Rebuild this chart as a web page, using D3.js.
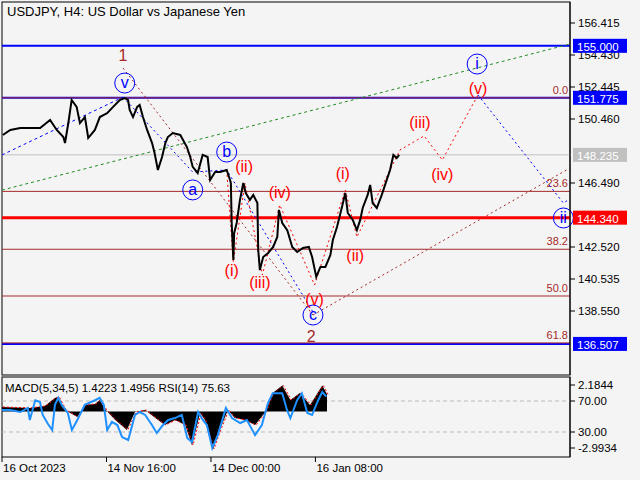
<!DOCTYPE html>
<html><head><meta charset="utf-8">
<script src="https://cdn.jsdelivr.net/npm/d3@7"></script>
<style>body{margin:0;background:#f4f4f4}text{font-family:"Liberation Sans",Arial,sans-serif}</style>
</head><body><svg id="c" width="640" height="480"></svg>
<script>
// price trace, bar index / close
var priceIdx = [1,10,22,37,46,58,66,74,76,80,84,90,94,100,104,112,118,127,134,142,148,152,154,158,163,166,170,175,181,184,188,193,197,200,206,215,223,227,230,236,242,248,251,257,263,271,275,276,277,279,280,283,287,291,294,299,303,308,309,311,315,321,327,332,334,338,344,350,356,363,370,374,379,384,390,396,399,404,410,414,417,423,428,432,435,441,444,447,452,458,464,468,472,476,479];
var priceVal = [149.47,149.78,149.90,149.90,149.90,150.40,149.78,149.34,148.97,150.21,151.64,151.21,150.21,150.58,149.28,149.78,150.58,150.83,151.21,151.64,151.76,151.64,151.02,150.58,151.21,151.33,150.58,149.78,148.97,148.35,147.30,148.10,148.97,149.34,149.59,149.47,148.72,148.10,147.49,147.11,148.23,148.10,146.68,147.17,147.17,147.30,146.68,146.49,144.01,141.71,143.39,144.01,145.44,146.49,145.87,145.44,145.75,145.25,142.33,141.09,141.90,142.15,142.52,143.14,144.82,144.01,143.57,142.52,142.21,142.46,142.52,141.90,140.66,141.28,141.28,142.02,142.95,143.76,145.00,145.87,144.63,144.20,143.57,144.20,144.94,145.75,146.37,145.25,144.94,145.75,146.68,147.30,148.23,148.04,148.23];

var rsiIdx = [0,12,27,38,41,49,56,60,68,74,78,83,88,97,103,111,122,137,144,150,155,162,170,177,186,196,203,211,221,228,236,245,255,265,273,280,289,296,302,310,318,330,339,351,361,373,383,392,399,413,420,425,435,442,450,457,466,472,478];
var rsiVal = [58.4,58.4,55.8,61,45.5,71,68.7,52,40,32.6,65,74,65,54.5,32.6,45.5,65,71,74,65,32.6,43,39,23.5,19.7,52,55.8,52,39,28.7,37.7,45.5,48,52,22.3,17,55.8,45.5,39,9.4,26,61,48,41.6,45.5,26,39,67.4,80,80,58.4,48,71,80,54.5,52,71,81.6,75.6];
var macdIdx = [0,41,63,78,83,93,111,122,137,144,153,167,184,196,211,226,240,255,270,280,292,299,311,321,333,343,358,373,388,399,413,425,439,454,472,479];
var macdVal = [0.38,0.30,0.46,1.12,1.2,0.13,-0.44,0.54,0.63,0.95,0.13,-0.69,-1.51,-0.03,0.13,-0.52,-1.1,-0.69,-1.1,-2.76,-0.12,-0.69,-3.07,-1.5,0.13,-0.52,-0.69,-1.1,-0.03,1.52,2.15,0.95,1.52,0.54,2.15,1.42];

var priceTicks = [156.415,154.430,152.445,150.460,148.475,146.490,144.505,142.520,140.535,138.550,136.565];
var levels = [
  {p:155.000, c:"#0000ff", w:2},
  {p:151.775, c:"#0000ff", w:2},
  {p:148.235, c:"#c0c0c0", w:1},
  {p:144.340, c:"#ff0000", w:3},
  {p:136.507, c:"#0000ff", w:2}];
var fibNames = ["0.0","23.6","38.2","50.0","61.8"];
var fibPrices = [151.775,145.97,142.38,139.48,136.57];
var dateTicks = [0,126,252,378];
var dateLabels = ["16 Oct 2023","14 Nov 16:00","14 Dec 00:00","16 Jan 08:00"];

// wave overlays [idx, price]
var greenLine = [[0,146.05],[685,155.11]];
var brownA = [[146,153.62],[375,138.30]];
var brownB = [[375,138.30],[685,147.42]];
var blueV = [[0,148.23],[146,151.82]];
var blueABC = [[146,151.82],[230,147.17],[271,147.30],[375,138.49]];
var redA = [[271,147.30],[279,141.59],[293,146.49],[314,140.78],[335,145.13],[377,140.16]];
var redB = [[377,140.16],[414,146.06],[428,143.14],[480,148.54],[509,149.41],[531,147.92],[574,151.95]];
var blueEnd = [[574,151.95],[677,145.25],[683,145.44]];
var brownLabels = [["1",146,154.43],["2",373,136.98]];
var circleLabels = [["v",148,152.69],["a",230,146.06],["b",271,148.41],["c",375,138.30],["i",573,153.87],["ii",677,144.32]];
var redLabels = [["(ii)",292,147.54],["(i)",277,141.09],["(iii)",311,140.35],["(iv)",335,145.93],["(v)",377,139.30],["(i)",411,147.11],["(ii)",426,142.02],["(iii)",504,150.27],["(iv)",531,147.05],["(v)",574,152.38]];

var svg = d3.select("#c");
var x = d3.scaleLinear().domain([0,685]).range([2,570]);
var y = d3.scaleLinear().domain([156.415,136.565]).range([23,343]);
var xi = d3.scaleLinear().domain([0,479]).range([2,327]);
var yr = d3.scaleLinear().domain([70,30]).range([401,432]);
var ym = d3.scaleLinear().domain([2.1844,-2.9934]).range([385,448]);

svg.append("rect").attr("x",2).attr("y",2).attr("width",568).attr("height",373).attr("fill","#f4f4f4").attr("stroke","#000");
svg.append("rect").attr("x",2).attr("y",377).attr("width",568).attr("height",80).attr("fill","#f4f4f4").attr("stroke","#000");

var main = svg.append("g");
var line = d3.line().x(d => x(d[0])).y(d => y(d[1]));

// levels
main.selectAll("line.lv").data(levels).join("line")
  .attr("x1",2).attr("x2",570).attr("y1",d=>y(d.p)).attr("y2",d=>y(d.p))
  .attr("stroke",d=>d.c).attr("stroke-width",d=>d.w);
main.selectAll("line.fib").data(fibPrices).join("line")
  .attr("x1",2).attr("x2",570).attr("y1",d=>y(d)).attr("y2",d=>y(d))
  .attr("stroke","#a52a2a").attr("stroke-width",1);
main.selectAll("text.fib").data(fibPrices).join("text")
  .attr("x",568).attr("y",d=>y(d)-4).attr("text-anchor","end")
  .attr("font-size",11).attr("fill","#a52a2a").text((d,i)=>fibNames[i]);

function dotted(data,col,dash){
  main.append("path").attr("d",line(data)).attr("fill","none")
    .attr("stroke",col).attr("stroke-width",1).attr("stroke-dasharray",dash||"2,3");
}
dotted(greenLine,"#228b22","3,3");
dotted(brownA,"#a52a2a");
dotted(brownB,"#a52a2a");
dotted(blueV,"#0000ff","3,3");
dotted(blueABC,"#0000ff");
dotted(redA,"#ff0000");
dotted(redB,"#ff0000");
dotted(blueEnd,"#0000ff");

// price
main.append("path").attr("d",line(priceIdx.map((d,i)=>[d,priceVal[i]])))
  .attr("fill","none").attr("stroke","#000").attr("stroke-width",2);

main.selectAll("text.bl").data(brownLabels).join("text")
  .attr("x",d=>x(d[1])).attr("y",d=>y(d[2])+6).attr("text-anchor","middle")
  .attr("font-size",16).attr("fill","#a52a2a").text(d=>d[0]);
var cl = main.selectAll("g.cl").data(circleLabels).join("g")
  .attr("transform",d=>`translate(${x(d[1])},${y(d[2])})`);
cl.append("circle").attr("r",10).attr("fill","none").attr("stroke","#0000ff");
cl.append("text").attr("y",5).attr("text-anchor","middle").attr("font-size",16).attr("fill","#0000ff").text(d=>d[0]);
main.selectAll("text.rl").data(redLabels).join("text")
  .attr("x",d=>x(d[1])).attr("y",d=>y(d[2])+6).attr("text-anchor","middle")
  .attr("font-size",16).attr("fill","#ff0000").text(d=>d[0]);

svg.append("text").attr("x",7).attr("y",16).attr("font-size",13).text("USDJPY, H4:  US Dollar vs Japanese Yen");

// right axis
var ax = svg.append("g");
ax.append("line").attr("x1",570).attr("x2",570).attr("y1",2).attr("y2",375).attr("stroke","#000");
var shownTicks = priceTicks.filter(t => !levels.some(l => Math.abs(y(l.p)-y(t)) < 9));
ax.selectAll("g.t").data(shownTicks).join("g").attr("transform",d=>`translate(570,${y(d)})`)
  .call(g=>{g.append("line").attr("x2",5).attr("stroke","#000");
    g.append("text").attr("x",8).attr("y",4).attr("font-size",11.5).text(d=>d.toFixed(3));});
var tags = ax.selectAll("g.tag").data(levels).join("g").attr("transform",d=>`translate(573,${y(d.p)})`);
tags.append("rect").attr("y",-7).attr("width",54).attr("height",14).attr("fill",d=>d.c);
tags.append("text").attr("x",4).attr("y",5).attr("font-size",11.5).attr("fill","#fff").text(d=>d.p.toFixed(3));

// indicator
var ind = svg.append("g");
[70,30].forEach(v=>ind.append("line").attr("x1",2).attr("x2",570).attr("y1",yr(v)).attr("y2",yr(v))
  .attr("stroke","#bbb").attr("stroke-dasharray","4,3"));
var md = macdIdx.map((d,i)=>[d,macdVal[i]]);
ind.append("path").attr("d",d3.area().x(d=>xi(d[0])).y0(ym(0)).y1(d=>ym(d[1]))(md)).attr("fill","#000");
ind.append("path").attr("d",d3.line().x(d=>xi(d[0])+1).y(d=>ym(d[1]))(md)).attr("fill","none")
  .attr("stroke","#ff0000").attr("stroke-dasharray","2,2");
ind.append("path").attr("d",d3.line().x(d=>xi(d[0])).y(d=>yr(d[1]))(rsiIdx.map((d,i)=>[d,rsiVal[i]])))
  .attr("fill","none").attr("stroke","#1e90ff").attr("stroke-width",2);
ind.append("text").attr("x",5).attr("y",392).attr("font-size",11.5).text("MACD(5,34,5) 1.4223 1.4956 RSI(14) 75.63");
var il = [[2.1844,ym(2.1844)],[70,yr(70)],[30,yr(30)],[-2.9934,ym(-2.9934)]];
var ilab = ["2.1844","70.00","30.00","-2.9934"];
ind.append("line").attr("x1",570).attr("x2",570).attr("y1",377).attr("y2",457).attr("stroke","#000");
il.forEach((d,i)=>{ind.append("line").attr("x1",570).attr("x2",575).attr("y1",d[1]).attr("y2",d[1]).attr("stroke","#000");
  ind.append("text").attr("x",578).attr("y",d[1]+4).attr("font-size",11.5).text(ilab[i]);});

// date axis
var dg = svg.append("g");
dateTicks.forEach((t,i)=>{dg.append("line").attr("x1",x(t)).attr("x2",x(t)).attr("y1",457).attr("y2",462).attr("stroke","#000");
  dg.append("text").attr("x",x(t)+1).attr("y",472).attr("font-size",11.5).text(dateLabels[i]);});
</script></body></html>
